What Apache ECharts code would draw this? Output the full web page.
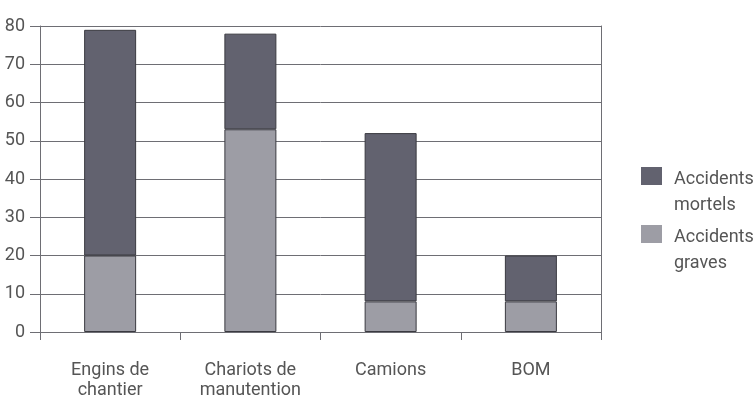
<!DOCTYPE html>
<html>
<head>
<meta charset="utf-8">
<script src="https://cdn.jsdelivr.net/npm/echarts@6/dist/echarts.min.js"></script>
<style>
  html, body { margin: 0; padding: 0; background: #fff; }
  #chart { width: 756px; height: 400px; }
</style>
</head>
<body>
<div id="chart"></div>
<script>
// Vehicle categories along the x axis
const categories = ['Engins de\nchantier', 'Chariots de\nmanutention', 'Camions', 'BOM'];
// Serious accidents (bottom segment)
const graves = [20, 53, 8, 8];
// Fatal accidents (top segment, stacked on the serious ones)
const mortels = [59, 25, 44, 12];
const yTicks = [0, 10, 20, 30, 40, 50, 60, 70, 80];

const textColor = '#555';
const fontFamily = 'Roboto, sans-serif';
const lineColor = '#6e6e74';

// Legend swatch: an 18px square at the top of a 50px-tall box, so the
// square sits beside the first line of the two-line label
const swatch = 'path://M0,0L21,0L21,18L0,18Z M0,50 M21,50';

const chart = echarts.init(document.getElementById('chart'), null, { renderer: 'canvas' });

chart.setOption({
  animation: false,
  backgroundColor: '#fff',
  grid: { left: 40, right: 155, top: 26, bottom: 67, containLabel: false },
  legend: {
    orient: 'vertical',
    left: 641,
    top: 166,
    padding: 0,
    itemWidth: 21,
    itemHeight: 50,
    itemGap: 6,
    icon: swatch,
    itemStyle: { borderWidth: 0 },
    data: ['Accidents mortels', 'Accidents graves'],
    formatter: name => name.replace(' ', '\n'),
    textStyle: {
      color: textColor,
      fontFamily: fontFamily,
      fontSize: 18,
      lineHeight: 26,
      padding: [0, 0, 0, 7]
    }
  },
  xAxis: {
    type: 'category',
    data: categories,
    boundaryGap: true,
    axisLine: { show: true, lineStyle: { color: lineColor, width: 1 } },
    axisTick: { show: true, length: 8, alignWithLabel: false, lineStyle: { color: lineColor } },
    axisLabel: {
      color: textColor,
      fontFamily: fontFamily,
      fontSize: 18,
      lineHeight: 20,
      margin: 28,
      interval: 0
    },
    splitLine: { show: false }
  },
  yAxis: [
    {
      type: 'value',
      min: yTicks[0],
      max: yTicks[yTicks.length - 1],
      interval: 10,
      axisLine: { show: true, lineStyle: { color: lineColor, width: 1 } },
      axisTick: { show: true, length: 10, lineStyle: { color: lineColor } },
      axisLabel: {
        color: textColor,
        fontFamily: fontFamily,
        fontSize: 18,
        margin: 15,
        padding: [0, 0, 9, 0]
      },
      splitLine: { show: true, lineStyle: { color: lineColor, width: 1 } }
    },
    {
      type: 'value',
      position: 'right',
      min: yTicks[0],
      max: yTicks[yTicks.length - 1],
      interval: 10,
      axisLine: { show: true, lineStyle: { color: lineColor, width: 1 } },
      axisTick: { show: false },
      axisLabel: { show: false },
      splitLine: { show: false }
    }
  ],
  series: [
    {
      name: 'Accidents graves',
      type: 'bar',
      stack: 'total',
      data: graves,
      barWidth: 52,
      itemStyle: { color: '#9d9da5', borderColor: '#3a3a40', borderWidth: 1 }
    },
    {
      name: 'Accidents mortels',
      type: 'bar',
      stack: 'total',
      data: mortels,
      barWidth: 52,
      itemStyle: { color: '#62626f', borderColor: '#3a3a40', borderWidth: 1 }
    }
  ]
});
</script>
</body>
</html>
